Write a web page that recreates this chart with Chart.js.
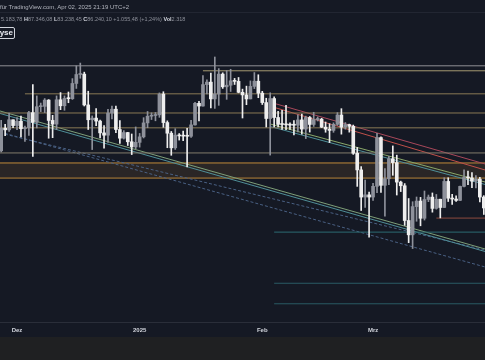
<!DOCTYPE html>
<html><head><meta charset="utf-8">
<script src="https://cdn.jsdelivr.net/npm/chart.js@4.4.1/dist/chart.umd.min.js"></script>
<style>
html,body{margin:0;padding:0;background:#151924;width:485px;height:360px;overflow:hidden;font-family:"Liberation Sans",Arial,sans-serif;}
#wrap{position:absolute;left:0;top:0;width:485px;height:337px;}
#bottom{position:absolute;left:0;top:337px;width:485px;height:23px;background:#1f2022;}
#hdr{position:absolute;left:0;top:4px;font-size:6px;color:#b2b5be;white-space:nowrap;}
#sep{position:absolute;left:0;top:12px;width:485px;height:1px;background:#222632;}
#ohlc{position:absolute;left:1px;top:16px;font-size:5.5px;color:#8d909a;white-space:nowrap;}
#ohlc b{color:#d1d4dc;}
#btn{position:absolute;left:-4px;top:27px;width:19px;height:12px;border:1px solid #d1d4dc;border-radius:2px;color:#e8eaf0;font-size:8px;font-weight:bold;line-height:10px;text-align:right;padding-right:1px;box-sizing:border-box;}
</style></head>
<body>
<div id="wrap"><canvas id="c" width="485" height="337"></canvas></div>
<div id="sep"></div>
<div id="hdr">für TradingView.com, Apr 02, 2025 21:19 UTC+2</div>
<div id="ohlc">5.183,78 <b>H</b>87.346,08 <b>L</b>83.238,45 <b>C</b>86.240,10 +1.055,48 (+1,24%) <b>Vol</b>2.318</div>
<div id="btn">yse</div>
<div id="bottom"></div>
<script>
// ---- data (daily candles) ----
const dates = ["2024-11-27","2024-11-28","2024-11-29","2024-11-30",
"2024-12-01","2024-12-02","2024-12-03","2024-12-04","2024-12-05","2024-12-06","2024-12-07","2024-12-08","2024-12-09","2024-12-10",
"2024-12-11","2024-12-12","2024-12-13","2024-12-14","2024-12-15","2024-12-16","2024-12-17","2024-12-18","2024-12-19","2024-12-20",
"2024-12-21","2024-12-22","2024-12-23","2024-12-24","2024-12-25","2024-12-26","2024-12-27","2024-12-28","2024-12-29","2024-12-30","2024-12-31",
"2025-01-01","2025-01-02","2025-01-03","2025-01-04","2025-01-05","2025-01-06","2025-01-07","2025-01-08","2025-01-09","2025-01-10",
"2025-01-11","2025-01-12","2025-01-13","2025-01-14","2025-01-15","2025-01-16","2025-01-17","2025-01-18","2025-01-19","2025-01-20",
"2025-01-21","2025-01-22","2025-01-23","2025-01-24","2025-01-25","2025-01-26","2025-01-27","2025-01-28","2025-01-29","2025-01-30","2025-01-31",
"2025-02-01","2025-02-02","2025-02-03","2025-02-04","2025-02-05","2025-02-06","2025-02-07","2025-02-08","2025-02-09","2025-02-10",
"2025-02-11","2025-02-12","2025-02-13","2025-02-14","2025-02-15","2025-02-16","2025-02-17","2025-02-18","2025-02-19","2025-02-20",
"2025-02-21","2025-02-22","2025-02-23","2025-02-24","2025-02-25","2025-02-26","2025-02-27","2025-02-28",
"2025-03-01","2025-03-02","2025-03-03","2025-03-04","2025-03-05","2025-03-06","2025-03-07","2025-03-08","2025-03-09","2025-03-10",
"2025-03-11","2025-03-12","2025-03-13","2025-03-14","2025-03-15","2025-03-16","2025-03-17","2025-03-18","2025-03-19","2025-03-20",
"2025-03-21","2025-03-22","2025-03-23","2025-03-24","2025-03-25","2025-03-26","2025-03-27","2025-03-28","2025-03-29"];
const openP = [91960,95920,95640,97460,
96410,97190,95840,96000,98770,96990,99870,99930,101110,97340,
96670,101170,100040,101420,101370,104300,106060,106140,100200,97460,
97760,97220,95100,94690,98690,99400,95700,94160,95160,93530,92640,
93430,94400,96890,98110,98240,98360,102240,96950,95040,92480,
94700,94560,94520,94500,96530,100500,99990,104080,104560,101330,
102260,106140,103650,103960,104820,104710,102590,102090,101330,103730,104740,
102430,100640,97690,101400,97870,96620,96590,96530,96480,96470,
97430,95780,97870,96610,97500,97570,96120,95770,95540,96630,
98330,96130,96580,96270,91550,88740,84350,84700,
84350,86060,94270,86220,87280,90610,89960,86740,86150,80730,
78600,82860,83720,81070,83970,84340,82580,84010,82720,86850,
84170,84040,83830,86050,87500,87420,86900,87230,84350];
const highP = [97360,96650,98690,97460,
97840,98150,96300,99000,104090,101900,100550,101400,101200,98270,
101900,102540,101900,102650,105250,107790,108350,106530,102800,98160,
99540,97400,96400,99400,99960,99960,97300,95500,95200,94900,96160,
95000,97840,98980,98730,98800,102480,102700,97260,95350,95840,
94980,95400,95900,97350,100680,100870,105870,104990,106320,109590,
107240,106400,106850,107100,105290,105470,103200,103780,104800,106450,106010,
102780,101460,102500,101730,99000,99200,100140,96880,97320,98350,
98480,98120,98060,98830,97970,97730,97050,96740,96900,98770,
99500,96950,96670,96500,92540,89290,87050,85120,
86560,95000,94420,88970,91000,92810,91220,86900,86500,84120,
83620,84360,84300,85310,84670,85000,84760,84020,87450,87450,
84780,84560,86100,88750,88540,88290,87800,87500,84570];
const lowP = [91770,94600,95380,96020,
95690,94390,93580,94660,91000,95980,98950,98770,94150,94250,
95700,99310,99200,100610,101230,103330,105320,100000,95700,92180,
96400,94200,92400,93400,97600,95140,93250,94010,92880,91320,92340,
92600,94200,96020,97500,97270,97900,96100,92500,91200,92200,
93830,93710,89250,94310,96500,97270,99950,102280,99620,99550,
100120,103340,101250,102750,104100,102500,97780,100250,101330,103300,101560,
100280,96150,91230,96150,96160,95700,95650,95700,94750,95260,
94850,94090,95240,96250,97230,96050,95210,93390,95200,96430,
94870,95760,95230,91350,86050,82260,82720,78260,
83820,85050,85080,81390,86330,87850,84670,85220,80000,77460,
76610,80620,79940,80800,83630,82000,82460,81130,82720,83650,
83180,83670,83800,85950,86310,85860,85800,83600,81650];
const closeP = [95920,95640,97460,96410,
97190,95840,96000,98770,96990,99870,99930,101110,97340,96670,
101170,100040,101420,101370,104300,106060,106140,100200,97460,97760,
97220,95100,94690,98690,99400,95700,94160,95160,93530,92640,93430,
94400,96890,98110,98240,98360,102240,96950,95040,92480,94700,
94560,94520,94500,96530,100500,99990,104080,104560,101330,102260,
106140,103650,103960,104820,104710,102590,102090,101330,103730,104740,102430,
100640,97690,101400,97870,96620,96590,96530,96480,96470,97430,
95780,97870,96610,97500,97570,96120,95770,95540,96630,98330,
96130,96580,96270,91550,88740,84350,84700,84350,
86060,94270,86220,87280,90610,89960,86740,86150,80730,78600,
82860,83720,81070,83970,84340,82580,84010,82720,86850,84170,
84040,83830,86050,87500,87420,86900,87230,84350,82650];

// x-axis tick labels (days after 2024-12-01)
const tickDays = [0, 31, 62, 90];
const tickLabels = ["Dez", "2025", "Feb", "Mrz"];

// horizontal levels drawn on the chart (price, first day)
const levelPrices = [107800, 106800, 102300, 98700, 96000, 91600, 81100, 79000, 71800, 69100];
const levelStartDays = [-4.3, 47, 2, -4.3, -4.3, -4.3, 106, 65, 65, 65];
const zonePrices = [89900, 87400];   // shaded zone
// trend lines: [startDay, startPrice, endDay, endPrice]
const trendGreenA = [-4.3, 99070, 118.3, 76550];
const trendGreenB = [-4.3, 98610, 118.3, 76190];
const trendDashA = [-4.3, 95080, 118.3, 76410];
const trendDashB = [-4.3, 95260, 118.3, 74020];
const trendChanA = [64, 96690, 118.3, 86760];
const trendChanB = [64, 96240, 118.3, 86360];
const trendRedA = [64.7, 100560, 118.3, 89730];
const trendRedB = [64.7, 99810, 118.3, 88730];

// ---- build ----
const base = Date.UTC(2024, 11, 1);
const dayIdx = dates.map(s => { const [y,m,d] = s.split('-').map(Number); return Math.round((Date.UTC(y,m-1,d) - base) / 86400000); });
const UP = '#8e919b', DOWN = '#eeeeee';
const isUp = openP.map((o,i) => closeP[i] >= o);
const X_MIN = -4.3, X_MAX = 118.3;

function seg(t, color, dash, w) {
  return { type:'line', data:[{x:t[0],y:t[1]},{x:t[2],y:t[3]}], borderColor:color, borderWidth:w||1,
    borderDash:dash||[], pointRadius:0, tension:0, fill:false, order:10, clip:0 };
}
const levelColors = ['#8f8f95','#a59a72','#8a7a55','#8a7a55','#8a7a55','#837c6c','#8d4a3e','#2c6a72','#2a5b64','#2a5b64'];
const levelDs = levelPrices.map((p,i) => seg([levelStartDays[i], p, X_MAX, p], levelColors[i]));
const zoneDs = [
  { type:'line', data:[{x:X_MIN,y:zonePrices[0]},{x:X_MAX,y:zonePrices[0]}], borderColor:'#c08a3a', borderWidth:1, pointRadius:0, fill:'+1', backgroundColor:'rgba(120,85,45,0.22)', order:20, clip:0 },
  { type:'line', data:[{x:X_MIN,y:zonePrices[1]},{x:X_MAX,y:zonePrices[1]}], borderColor:'#c08a3a', borderWidth:1, pointRadius:0, fill:false, order:20, clip:0 }
];
const trendDs = [
  seg(trendGreenA, '#7fa079'), seg(trendGreenB, '#4f8f98'),
  seg(trendDashA, '#4a6184', [3,2]), seg(trendDashB, '#4a6184', [3,2]),
  seg(trendChanA, '#8aa86a'), seg(trendChanB, '#4f8f98'),
  seg(trendRedA, '#a8485a'), seg(trendRedB, '#c0504a')
];

const wickDs = { type:'bar', data: dayIdx.map((d,i)=>({x:d, y:[lowP[i], highP[i]]})),
  backgroundColor: isUp.map(u => u ? UP : DOWN), barThickness:1, grouped:false, order:2, borderWidth:0 };
const bodyDs = { type:'bar', data: dayIdx.map((d,i)=>({x:d, y:[openP[i], closeP[i]]})),
  backgroundColor: isUp.map(u => u ? UP : DOWN), barThickness:3, grouped:false, order:1, borderWidth:0, minBarLength:1 };

new Chart(document.getElementById('c'), {
  type:'bar',
  data:{ datasets:[...zoneDs, ...levelDs, ...trendDs, wickDs, bodyDs] },
  options:{
    responsive:false, animation:false, devicePixelRatio:1,
    layout:{ padding:{ top:13, left:0, right:0, bottom:0 } },
    plugins:{ legend:{display:false}, tooltip:{enabled:false} },
    scales:{
      x:{ type:'linear', min:X_MIN, max:X_MAX, offset:false,
        grid:{ display:false, drawTicks:false },
        border:{ display:true, color:'#2a2e39' },
        afterBuildTicks: s => { s.ticks = tickDays.map(v => ({value:v})); },
        afterFit: s => { s.height = 15; },
        ticks:{ autoSkip:false, maxRotation:0, padding:5, color:'#d1d4dc',
          font:{ size:6, weight:'bold', family:'"Liberation Sans", Arial, sans-serif' },
          callback: v => tickLabels[tickDays.indexOf(v)] }
      },
      y:{ type:'logarithmic', min:66785, max:118980, display:false }
    }
  }
});
</script>
</body></html>
